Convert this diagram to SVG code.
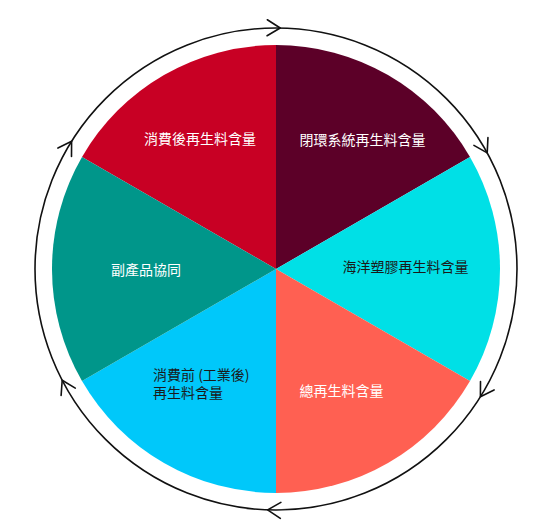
<svg xmlns="http://www.w3.org/2000/svg" width="538" height="525" viewBox="0 0 538 525">
<style>
.lbl{font-family:"Noto Sans CJK TC","Noto Sans CJK SC",sans-serif;font-size:14px}
.w{fill:#ffffff}
.d{fill:#1a1a1a}
.ah{fill:none;stroke:#111111;stroke-width:1.6;stroke-linecap:round;stroke-linejoin:round}
</style>
<defs>
<path id="arrow" class="ah" d="M-13,-8 L0,0 L-13,8"/>
</defs>
<rect width="538" height="525" fill="#ffffff"/>
<g id="connectors">
<circle cx="276" cy="269" r="241" fill="none" stroke="#111111" stroke-width="1.6"/>
<use href="#arrow" transform="translate(280.2,28) rotate(1)"/>
<use href="#arrow" transform="translate(487.2,152.9) rotate(61.2)"/>
<use href="#arrow" transform="translate(480.4,396.7) rotate(122)"/>
<use href="#arrow" transform="translate(267.6,509.9) rotate(182)"/>
<use href="#arrow" transform="translate(62.2,380.3) rotate(242.5)"/>
<use href="#arrow" transform="translate(71.6,141.3) rotate(302)"/>
</g>
<g id="post-consumer">
<path d="M276,269 L82.01,157 A224,224 0 0 1 276,45 Z" fill="#C80024"/>
<text class="lbl w" x="200" y="144" text-anchor="middle">消費後再生料含量</text>
</g>
<g id="closed-loop">
<path d="M276,269 L276,45 A224,224 0 0 1 469.99,157 Z" fill="#5C0028"/>
<text class="lbl w" x="362.5" y="145" text-anchor="middle">閉環系統再生料含量</text>
</g>
<g id="ocean-plastic">
<path d="M276,269 L469.99,157 A224,224 0 0 1 469.99,381 Z" fill="#00E0E6"/>
<text class="lbl d" x="405.5" y="272" text-anchor="middle">海洋塑膠再生料含量</text>
</g>
<g id="total">
<path d="M276,269 L469.99,381 A224,224 0 0 1 276,493 Z" fill="#FF6052"/>
<text class="lbl w" x="341.5" y="396" text-anchor="middle">總再生料含量</text>
</g>
<g id="pre-consumer">
<path d="M276,269 L276,493 A224,224 0 0 1 82.01,381 Z" fill="#00C8FA"/>
<text class="lbl d" x="153" y="380"><tspan x="153" y="380">消費前 (工業後)</tspan><tspan x="153" y="398">再生料含量</tspan></text>
</g>
<g id="by-product">
<path d="M276,269 L82.01,381 A224,224 0 0 1 82.01,157 Z" fill="#00968A"/>
<text class="lbl w" x="146" y="275" text-anchor="middle">副產品協同</text>
</g>
</svg>
